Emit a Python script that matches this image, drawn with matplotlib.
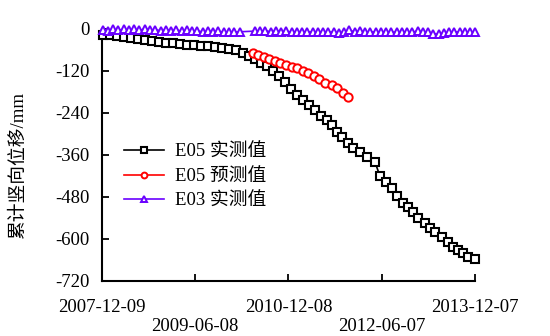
import matplotlib
matplotlib.use("Agg")
import matplotlib.pyplot as plt
import numpy as np

plt.rcParams['font.family'] = ['Liberation Serif', 'Noto Sans CJK SC', 'DejaVu Sans']
plt.rcParams['axes.unicode_minus'] = False

start = np.datetime64('2007-12-09')

# E05 measured (days after start, mm)
e05_days = [6, 47, 88, 129, 170, 211, 252, 294, 335, 376, 417, 458, 499, 540, 581, 622,
            663, 705, 746, 787, 828, 863, 898, 933, 969, 1004, 1039, 1074, 1110, 1145,
            1180, 1215, 1251, 1286, 1321, 1350, 1380, 1409, 1444, 1474, 1515, 1556, 1603,
            1632, 1667, 1703, 1732, 1767, 1797, 1826, 1855, 1896, 1926, 1955, 1996, 2031,
            2061, 2090, 2119, 2149, 2190]
e05_meas = [-17, -18, -20, -22, -25, -28, -31, -34, -37, -39, -41, -43, -45, -47, -49, -50,
            -52, -54, -56, -60, -69, -77, -86, -97, -106, -120, -134, -151, -171, -189,
            -203, -217, -231, -249, -260, -274, -294, -309, -326, -340, -351, -366, -380,
            -420, -437, -454, -477, -497, -509, -523, -540, -554, -569, -580, -594, -609,
            -623, -631, -640, -651, -657]

# E05 predicted
pred_days = [887, 916, 951, 980, 1016, 1045, 1080, 1115, 1145, 1180, 1209, 1245, 1274,
             1309, 1350, 1380, 1415, 1444]
e05_pred = [-69, -74, -80, -86, -91, -97, -103, -109, -111, -120, -126, -134, -143,
            -154, -160, -169, -183, -194]

# E03 measured
e03_days = [6, 35, 65, 94, 129, 159, 188, 217, 252, 282, 311, 346, 376, 405, 434, 470,
            499, 528, 558, 593, 622, 651, 681, 716, 746, 775, 810, 898, 928, 957, 992,
            1022, 1051, 1080, 1115, 1145, 1174, 1204, 1239, 1268, 1298, 1327, 1362, 1391,
            1421, 1450, 1485, 1515, 1544, 1573, 1609, 1638, 1667, 1697, 1732, 1761, 1791,
            1820, 1855, 1885, 1914, 1943, 1979, 2008, 2037, 2067, 2102, 2131, 2160, 2190]
e03_meas = [-2, -5, -1, -4, -1, -3, -1, -4, 0, -3, -2, -5, -2, -5, -3, -6,
            -4, -7, -6, -8, -7, -8, -7, -9, -8, -9, -8, -6, -7, -5, -8,
            -6, -8, -7, -9, -8, -9, -8, -9, -8, -9, -10, -8, -12,
            -9, -4, -8, -6, -9, -8, -9, -10, -9, -10, -9, -10, -9,
            -10, -5, -10, -9, -14, -15, -12, -10, -9, -8, -9, -8, -9]

tick_dates = ['2007-12-09', '2009-06-08', '2010-12-08', '2012-06-07', '2013-12-07']
y_ticks = [0, -120, -240, -360, -480, -600, -720]

fig = plt.figure(figsize=(5.5, 3.36), dpi=100)
ax = fig.add_axes([0.1855, 0.1637, 0.678, 0.75])

def to_dates(days):
    return start + np.array(days).astype('timedelta64[D]')

ax.plot(to_dates(e05_days), e05_meas, color='black', lw=1.2, marker='s', ms=5.5,
        mfc='white', mec='black', mew=1.5, label='E05 实测值', clip_on=False, zorder=3)
ax.plot(to_dates(pred_days), e05_pred, color='red', lw=1.2, marker='o', ms=6,
        mfc='white', mec='red', mew=1.4, label='E05 预测值', clip_on=False, zorder=4)
ax.plot(to_dates(e03_days), e03_meas, color='#6a00ff', lw=1.2, marker='^', ms=5.5,
        mfc='white', mec='#6a00ff', mew=1.4, label='E03 实测值', clip_on=False, zorder=5)

ax.set_xlim(np.datetime64(tick_dates[0]), np.datetime64(tick_dates[-1]))
ax.set_ylim(-720, 0)
ax.set_xticks([np.datetime64(d) for d in tick_dates])
ax.set_xticklabels(tick_dates)
ax.set_yticks(y_ticks)
ax.set_yticklabels([str(v) for v in y_ticks])

for s in ['top', 'right']:
    ax.spines[s].set_visible(False)
for s in ['left', 'bottom']:
    ax.spines[s].set_linewidth(1.5)

ax.tick_params(direction='in', length=5, width=1.3, labelsize=13.5)
ax.tick_params(axis='y', pad=9)
for i, t in enumerate(ax.xaxis.get_major_ticks()):
    t.set_pad(13 if i % 2 == 0 else 26.5)

ax.set_ylabel('累计竖向位移/mm', fontsize=13.5)
ax.yaxis.set_label_coords(-0.2, 0.46)

ax.legend(loc='upper left', bbox_to_anchor=(0.04, 0.575), frameon=False, fontsize=13.5,
          handlelength=2.1, handletextpad=0.6, labelspacing=0.4, markerscale=0.7,
          borderaxespad=0)

fig.savefig('out.png', dpi=100)
